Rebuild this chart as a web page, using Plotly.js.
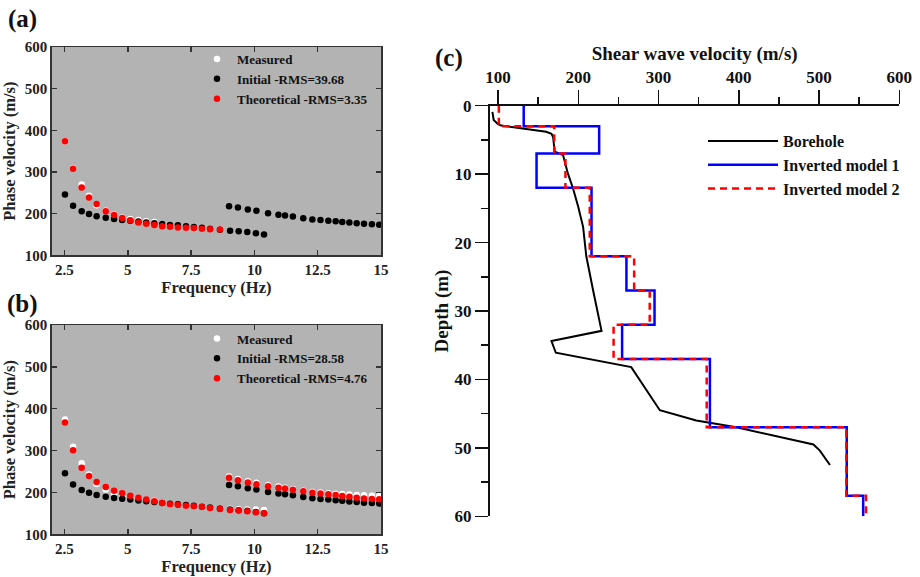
<!DOCTYPE html>
<html>
<head>
<meta charset="utf-8">
<script src="https://cdn.plot.ly/plotly-3.0.1.min.js"></script>
<style>html,body{margin:0;padding:0;background:#fff;}#chart{width:920px;height:577px;}</style>
</head>
<body>
<div id="chart"></div>
<script>
// ---------- Data: panels (a) and (b) ----------
const fFund = [2.52,2.84,3.18,3.47,3.77,4.13,4.46,4.78,5.10,5.42,5.73,6.05,6.36,6.67,6.98,7.30,7.61,7.93,8.25,8.64,9.04,9.38,9.72,10.06,10.38];
const fHigh = [9.00,9.35,9.74,10.08,10.54,10.95,11.21,11.52,11.93,12.29,12.61,12.92,13.21,13.47,13.75,14.04,14.33,14.64,14.93];

const initFund = [246,219,206,199,194,190,187,184.7,183,181,179,177,175,173,172,170,168,166,164,161.5,159,157.6,156,153,150];
const initHigh = [218,214.5,210,207,201,197.5,195.5,193,189,186,184.5,183,181.5,180,178.5,177,175.5,174.5,173.5];

const measFund = [374,309,270,243,220,207,198,191,187,185,182,180,175,172,170,168,167,165,163.5,162.5,161,160,159,159,158];
const measHigh = [238,232,227,223,217,214,211,208,204,201,200,198,197,196,195,194,193,192,191];

// panel (a): only the fundamental mode up to 8.64 Hz is fitted
const nA = 20;
const theoA = [374,308,263,239,223,206,197,189.5,184,179,176,172.6,170,168.6,167,166.3,165.5,164,162.5,162];

// panel (b)
const theoBFund = [367,301,259,239,225,213,204,198,192,187.5,183,179,175,171.6,170,168.5,167,165,163,160.4,158,157,155,152.5,150];
const theoBHigh = [235,229,224,219.5,214.6,211,209.5,206.5,202.7,199.4,197.5,195.5,194,191.5,189.5,187.5,185.5,184.5,183.5];

const legendA = ["Measured", "Initial -RMS=39.68", "Theoretical -RMS=3.35"];
const legendB = ["Measured", "Initial -RMS=28.58", "Theoretical -RMS=4.76"];

// ---------- Data: panel (c) ----------
const boreVel   = [93,94.6,100,104,160,166.6,168.6,170.7,181,187,193.5,200,206,210,218.5,229,166.6,172,266,301.6,347,397,493,501,513.6];
const boreDepth = [0.9,2.1,2.7,2.9,3.8,4.1,4.6,6.7,7.2,9.9,12.1,14.8,17.7,22,27,32.9,34.4,36.1,38.2,44.5,46,47,49.5,50.4,52.5];

const layerBounds = [0,3,7,12,22,27,32,37,47,57,60];
const model1Vel = [132,226,148,216.5,260,295,254.6,364,534.5,555];
const model2Vel = [101,170,184,214.3,269.6,289,244,360,534,558.5];

function steps(vel, bounds){
  const x=[], y=[];
  for(let i=0;i<vel.length;i++){ x.push(vel[i], vel[i]); y.push(bounds[i], bounds[i+1]); }
  return {x, y};
}
const m1 = steps(model1Vel, layerBounds);
const m2 = steps(model2Vel, layerBounds);

// ---------- Styling ----------
const FONT = "Liberation Serif, Times New Roman, serif";
const W = 920, H = 577;
const px = v => v / W;
const py = v => 1 - v / H;
const msz = 6.5;

function pts(x, y, color, name, xa, ya, leg, show, group){
  return {type:'scatter', mode:'markers', x, y, name, xaxis:xa, yaxis:ya, legend:leg,
    showlegend:show, legendgroup:group,
    marker:{color, size:msz, line:{width:0}}, hoverinfo:'x+y'};
}

const traces = [
  // panel (a)
  pts(fFund.slice(0,nA), measFund.slice(0,nA), '#ffffff', legendA[0], 'x', 'y', 'legend', true, 'a1'),
  pts(fFund, initFund, '#000000', legendA[1], 'x', 'y', 'legend', true, 'a2'),
  pts(fHigh, initHigh, '#000000', legendA[1], 'x', 'y', 'legend', false, 'a2'),
  pts(fFund.slice(0,nA), theoA, '#ff0000', legendA[2], 'x', 'y', 'legend', true, 'a3'),
  // panel (b)
  pts(fFund, measFund, '#ffffff', legendB[0], 'x2', 'y2', 'legend2', true, 'b1'),
  pts(fHigh, measHigh, '#ffffff', legendB[0], 'x2', 'y2', 'legend2', false, 'b1'),
  pts(fFund, initFund, '#000000', legendB[1], 'x2', 'y2', 'legend2', true, 'b2'),
  pts(fHigh, initHigh, '#000000', legendB[1], 'x2', 'y2', 'legend2', false, 'b2'),
  pts(fFund, theoBFund, '#ff0000', legendB[2], 'x2', 'y2', 'legend2', true, 'b3'),
  pts(fHigh, theoBHigh, '#ff0000', legendB[2], 'x2', 'y2', 'legend2', false, 'b3'),
  // panel (c)
  {type:'scatter', mode:'lines', x:boreVel, y:boreDepth, name:'Borehole', xaxis:'x3', yaxis:'y3', legend:'legend3',
    line:{color:'#000000', width:2}},
  {type:'scatter', mode:'lines', x:m1.x, y:m1.y, name:'Inverted model 1', xaxis:'x3', yaxis:'y3', legend:'legend3',
    line:{color:'#0000ff', width:2.5}},
  {type:'scatter', mode:'lines', x:m2.x, y:m2.y, name:'Inverted model 2', xaxis:'x3', yaxis:'y3', legend:'legend3',
    line:{color:'#ff0000', width:2.5, dash:'7px,5px'}}
];

const tickF = {family:FONT, size:15, color:'#222', weight:'bold'};
const titleF = {family:FONT, size:16.5, color:'#222', weight:'bold'};
const cTickF = {family:FONT, size:17, color:'#111', weight:'bold'};
const cTitleF = {family:FONT, size:19, color:'#111', weight:'bold'};

function freqAxis(anchor){
  return {domain:[px(51.8), px(381)], anchor, range:[2,15], tick0:2.5, dtick:2.5,
    ticks:'inside', ticklen:5, tickwidth:1.5, tickcolor:'#333', mirror:'ticks',
    showline:true, linecolor:'#333', linewidth:1.5, showgrid:false, zeroline:false,
    tickfont:tickF, title:{text:'Frequency (Hz)', font:titleF, standoff:3}};
}
function velAxis(top, bottom, anchor){
  return {domain:[py(bottom), py(top)], anchor, range:[100,600], dtick:100,
    ticks:'inside', ticklen:5, tickwidth:1.5, tickcolor:'#333', mirror:'ticks',
    showline:true, linecolor:'#333', linewidth:1.5, showgrid:false, zeroline:false,
    tickfont:tickF, title:{text:'Phase velocity (m/s)', font:titleF, standoff:7}};
}

const legFont = {family:FONT, size:13, color:'#111', weight:'bold'};

const layout = {
  width:W, height:H, margin:{l:0, r:0, t:0, b:0},
  paper_bgcolor:'#ffffff', plot_bgcolor:'rgba(0,0,0,0)',
  font:{family:FONT, color:'#222'},
  xaxis: freqAxis('y'),
  yaxis: velAxis(47, 255.3, 'x'),
  xaxis2: freqAxis('y2'),
  yaxis2: velAxis(325, 534.3, 'x2'),
  xaxis3: {domain:[px(490), px(899.3)], anchor:'y3', side:'top', range:[90,600], tick0:100, dtick:100,
    ticks:'outside', ticklen:14, tickwidth:1.5, tickcolor:'#111',
    minor:{dtick:50, ticks:'outside', ticklen:7, tickwidth:1.5, tickcolor:'#111'},
    showline:true, linecolor:'#111', linewidth:2, showgrid:false, zeroline:false,
    tickfont:cTickF,
    title:{text:'Shear wave velocity (m/s)', font:cTitleF, standoff:2}},
  yaxis3: {domain:[py(516.3), py(105.7)], anchor:'x3', range:[60,0], dtick:10,
    ticks:'outside', ticklen:13, tickwidth:1.5, tickcolor:'#111',
    minor:{dtick:5, ticks:'outside', ticklen:7, tickwidth:1.5, tickcolor:'#111'},
    showline:true, linecolor:'#111', linewidth:2, showgrid:false, zeroline:false,
    tickfont:cTickF,
    title:{text:'Depth (m)', font:cTitleF, standoff:1}},
  legend:{x:px(197), y:py(79), xanchor:'left', yanchor:'middle', bgcolor:'rgba(0,0,0,0)', font:legFont,
    tracegroupgap:0, itemsizing:'trace'},
  legend2:{x:px(197), y:py(358.5), xanchor:'left', yanchor:'middle', bgcolor:'rgba(0,0,0,0)', font:legFont,
    tracegroupgap:0, itemsizing:'trace'},
  legend3:{x:px(703), y:py(165), xanchor:'left', yanchor:'middle', bgcolor:'rgba(0,0,0,0)',
    font:{family:FONT, size:16, color:'#111', weight:'bold'}, itemwidth:70, tracegroupgap:0},
  shapes:[
    {type:'rect', xref:'x domain', yref:'y domain', x0:0, x1:1, y0:0, y1:1, fillcolor:'#b3b3b3', line:{width:0}, layer:'below'},
    {type:'rect', xref:'x2 domain', yref:'y2 domain', x0:0, x1:1, y0:0, y1:1, fillcolor:'#b3b3b3', line:{width:0}, layer:'below'}
  ],
  annotations:[
    {text:'(a)', xref:'paper', yref:'paper', x:px(22), y:py(19), xanchor:'center', yanchor:'middle', showarrow:false, font:{family:FONT, size:25, color:'#111', weight:'bold'}},
    {text:'(b)', xref:'paper', yref:'paper', x:px(22), y:py(304), xanchor:'center', yanchor:'middle', showarrow:false, font:{family:FONT, size:25, color:'#111', weight:'bold'}},
    {text:'(c)', xref:'paper', yref:'paper', x:px(449), y:py(58), xanchor:'center', yanchor:'middle', showarrow:false, font:{family:FONT, size:25, color:'#111', weight:'bold'}}
  ]
};

Plotly.newPlot('chart', traces, layout, {displayModeBar:false, staticPlot:true});
</script>
</body>
</html>
